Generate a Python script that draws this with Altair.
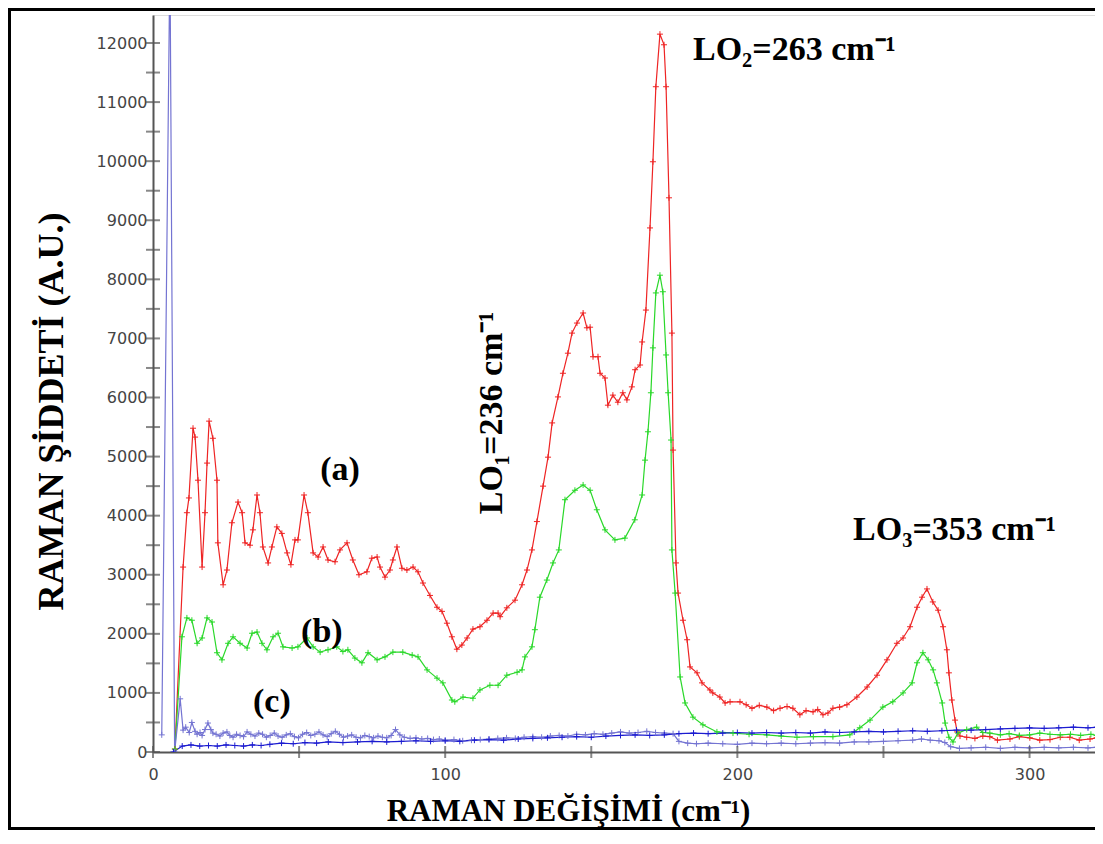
import altair as alt
import pandas as pd

# ---------------- data ----------------
series_names = ["(a)", "(b)", "(c)", "(d)"]
series_colors = ["#ee2424", "#2ad82a", "#7474d2", "#1c1cd0"]

a_x = [7.5, 10.3, 11.6, 12.3, 13.7, 14.4, 15.4, 16.8, 17.8, 18.5, 19.2, 20.5, 21.9, 22.2, 24.0, 25.3,
       27.0, 29.1, 30.5, 31.5, 33.2, 34.2, 35.6, 36.6, 37.6, 39.4, 40.7, 42.4, 44.1, 45.9, 47.2, 48.6,
       49.6, 51.7, 53.0, 54.8, 56.5, 58.2, 59.9, 62.3, 64.0, 66.4, 68.4, 70.5, 73.2, 74.9, 76.7, 77.7,
       79.4, 81.1, 82.1, 83.5, 85.2, 86.9, 89.0, 90.7, 92.4, 94.8, 97.2, 98.9, 100.6, 102.3, 104.0,
       105.7, 107.5, 109.5, 111.9, 114.3, 116.4, 118.1, 118.8, 121.1, 123.9, 126.3, 128.0, 129.7,
       131.4, 133.5, 135.2, 136.6, 138.6, 140.3, 142.0, 143.4, 145.1, 147.2, 148.5, 149.6, 150.6,
       152.3, 153.0, 154.7, 155.7, 157.4, 159.1, 160.8, 162.2, 163.9, 165.0, 166.7, 167.4, 168.7,
       170.1, 171.1, 172.1, 173.5, 174.9, 175.6, 176.6, 177.6, 178.0, 179.0, 179.7, 181.4, 182.8,
       183.8, 186.2, 187.9, 190.6, 191.6, 194.0, 195.8, 197.5, 200.9, 203.0, 205.0, 207.5, 210.1,
       212.4, 214.6, 217.0, 219.0, 221.4, 223.5, 225.9, 227.5, 229.3, 231.0, 232.7, 235.0, 237.5,
       240.9, 244.4, 247.8, 251.2, 254.6, 256.7, 259.1, 261.5, 263.2, 264.9, 266.9, 268.7, 270.4,
       271.7, 272.4, 273.4, 274.5, 275.2, 276.2, 278.5, 281.3, 284.0, 286.4, 289.0, 293.3, 296.5,
       300.1, 303.5, 307.0, 310.5, 313.8, 317.0, 320.7, 323.0]
a_y = [50, 3130, 4050, 4300, 5480, 5330, 4600, 3130, 4050, 4890, 5600, 5310, 4600, 3540, 2830, 3080,
       3880, 4230, 4050, 3540, 3500, 3760, 4350, 4050, 3470, 3200, 3470, 3810, 3700, 3370, 3170, 3590,
       3590, 4350, 4050, 3370, 3300, 3470, 3250, 3220, 3420, 3540, 3250, 3000, 3050, 3280, 3300, 3130,
       2960, 3080, 3250, 3470, 3110, 3080, 3130, 3050, 2860, 2650, 2450, 2380, 2180, 1950, 1740,
       1810, 1930, 2080, 2120, 2230, 2350, 2350, 2290, 2440, 2570, 2830, 3080, 3420,
       3900, 4500, 4990, 5570, 6010, 6410, 6750, 7090, 7260, 7430, 7180, 7190, 6690,
       6690, 6410, 6330, 5870, 6040, 5920, 6080, 5960, 6180, 6470, 6550, 6940, 7480,
       8870, 9990, 11260, 12150, 11970, 11260, 9380, 7090, 5110, 3200, 2690, 2230, 1900,
       1440, 1340, 1170, 1050, 1000, 930, 830, 850, 850, 800, 740, 790, 760,
       700, 740, 770, 740, 630, 700, 680, 720, 630, 660, 740, 760, 800,
       930, 1100, 1300, 1560, 1840, 1930, 2120, 2450, 2620, 2760, 2540, 2400, 2120,
       1730, 1340, 880, 540, 340, 270, 250, 230, 270, 260, 200, 220, 260,
       240, 200, 210, 250, 250, 200, 220, 240]

b_x = [7.5, 9.9, 11.6, 13.3, 15.1, 16.8, 18.5, 20.2, 21.9, 23.6, 25.7, 27.4, 29.8, 32.2, 33.9, 35.6,
       37.3, 39.0, 41.1, 42.8, 44.5, 47.6, 49.6, 52.7, 54.8, 57.2, 59.9, 62.9, 65.0, 66.7, 69.1, 71.5,
       73.6, 76.7, 79.4, 82.1, 85.5, 88.7, 90.7, 93.8, 97.2, 99.2, 102.3, 103.3, 106.1, 109.5, 111.9,
       115.3, 118.1, 121.1, 124.6, 126.3, 127.3, 129.7, 130.7, 132.4, 134.8, 136.9, 138.9, 141.0,
       144.4, 147.2, 149.6, 151.9, 154.7, 158.1, 161.5, 164.9, 167.4, 168.4, 169.4, 170.4, 171.1,
       172.1, 173.5, 174.5, 175.6, 176.3, 177.3, 177.6, 178.7, 180.4, 182.1, 184.8, 188.2, 193.0,
       198.5, 204.0, 210.1, 215.0, 220.4, 226.0, 232.7, 238.5, 241.9, 245.4, 249.8, 253.2, 256.7,
       259.8, 261.5, 263.5, 265.3, 267.0, 268.3, 270.1, 271.1, 272.4, 273.8, 275.5, 278.5, 281.9,
       284.0, 286.4, 290.0, 293.0, 296.5, 300.0, 303.5, 307.0, 310.5, 314.0, 317.5, 321.0, 323.0]
b_y = [50, 1950, 2270, 2230, 1840, 1930, 2270, 2200, 1680, 1560, 1840, 1950, 1840, 1760, 2010, 2030,
       1840, 1730, 1950, 2010, 1780, 1760, 1780, 1930, 1780, 1690, 1730, 1780, 1700, 1730, 1590, 1510,
       1680, 1560, 1610, 1690, 1690, 1640, 1610, 1390, 1250, 1170, 880, 850, 930, 910, 1050,
       1130, 1130, 1300, 1350, 1390, 1610, 1780, 2070, 2620, 2910, 3200, 3420, 4270,
       4430, 4520, 4430, 4100, 3760, 3590, 3620, 3930, 4350, 4940, 5420, 6080, 6840,
       7770, 8070, 7790, 6720, 6080, 5280, 3420, 2690, 1270, 830, 590, 460, 340,
       320, 300, 290, 270, 250, 260, 260, 290, 410, 540, 760, 850, 1000,
       1170, 1510, 1680, 1560, 1390, 1170, 830, 490, 250, 170, 320, 380, 420,
       330, 320, 290, 310, 280, 290, 320, 300, 290, 300, 280, 300, 280]

c_x = [3.0, 5.8, 7.4, 9.3, 10.3, 11.2, 12.4, 13.3, 14.4, 15.1, 16.1, 16.8, 17.8, 18.8, 19.8, 20.5,
       21.6, 22.9, 24.0, 25.3, 26.3, 27.4, 28.6, 29.8, 31.0, 32.2, 33.5, 34.9, 36.2, 37.5, 38.8, 40.1,
       41.5, 42.8, 44.2, 45.6, 47.0, 48.4, 49.8, 51.2, 52.6, 54.0, 55.4, 56.8, 58.2, 59.6, 61.0, 62.4,
       63.8, 65.2, 66.6, 68.0, 69.5, 71.0, 72.5, 74.0, 75.5, 77.0, 78.5, 80.0, 81.5, 83.0, 84.5, 86.0,
       88.0, 90.0, 92.0, 94.0, 96.0, 98.0, 100.0, 103, 106, 109, 112, 115, 118, 121, 124, 127, 130,
       133, 136, 139, 142, 145, 148, 151, 154, 157, 160, 163, 166, 169, 172, 175, 178, 180, 183, 186,
       190, 195, 200, 205, 210, 215, 220, 225, 230, 235, 240, 245, 250, 255, 260, 263, 266, 269, 271,
       273, 276, 280, 285, 290, 295, 300, 305, 310, 315, 320, 323]
c_y = [290, 13500, 0, 900, 370, 420, 330, 500, 350, 300, 330, 280, 380, 490, 380, 320,
       300, 270, 320, 340, 280, 250, 300, 280, 260, 340, 300, 270, 320, 300, 250, 280,
       320, 270, 250, 290, 310, 260, 240, 300, 330, 280, 300, 340, 290, 260, 310, 350,
       300, 250, 270, 290, 250, 240, 280, 260, 240, 270, 250, 240, 280, 380, 290, 250,
       230, 240, 220, 230, 210, 220, 200, 210, 190, 200, 210, 220, 230, 240, 230, 250, 260,
       250, 270, 280, 270, 300, 290, 310, 300, 320, 340, 320, 330, 350, 330, 320, 310, 180, 150, 140,
       150, 140, 130, 150, 140, 150, 140, 150, 160, 150, 170, 170, 180, 190, 200, 220, 200, 190, 160,
       90, 60, 70, 80, 60, 80, 70, 80, 70, 80, 70, 80]

d_x = [7.0, 10, 13, 16, 19, 22, 25, 28, 31, 34, 37, 40, 44, 48, 52, 56, 60, 65, 70, 75, 80, 85, 90,
       95, 100, 105, 110, 115, 120, 125, 130, 135, 140, 145, 150, 155, 160, 165, 170, 175, 180, 185,
       190, 195, 200, 205, 210, 215, 220, 225, 230, 235, 240, 245, 250, 255, 260, 265, 270, 275, 280,
       285, 290, 295, 300, 305, 310, 315, 320, 323]
d_y = [0, 100, 120, 100, 110, 100, 120, 110, 100, 120, 110, 130, 150, 140, 160, 150, 170, 160, 170,
       180, 170, 180, 190, 180, 190, 180, 200, 210, 200, 220, 230, 240, 250, 260, 250, 270, 280, 290,
       280, 290, 310, 320, 310, 320, 330, 320, 330, 320, 330, 320, 340, 330, 340, 350, 340, 350, 360,
       350, 360, 370, 370, 380, 390, 400, 410, 400, 410, 420, 410, 420]

x_tick_values = [0, 50, 100, 150, 200, 250, 300]
x_label_values = [0, 100, 200, 300]
y_tick_values = list(range(0, 12001, 500))
y_label_values = list(range(0, 12001, 1000))

ann_text = ["(a)", "(b)", "(c)", "LO\u2082=263 cm\u207b\u00b9", "LO\u2083=353 cm\u207b\u00b9"]
ann_x = [64.0, 57.8, 40.7, 184.8, 239.6]
ann_y = [4770, 2030, 850, 11880, 3760]
ann_align = ["center", "center", "center", "left", "left"]
rot_text = ["LO\u2081=236 cm\u207b\u00b9"]
rot_x = [116.0]
rot_y = [5740]

# ---------------- build ----------------
rows = []
for name, xs, ys in zip(series_names, [a_x, b_x, c_x, d_x], [a_y, b_y, c_y, d_y]):
    for i, (xv, yv) in enumerate(zip(xs, ys)):
        rows.append({"series": name, "x": xv, "y": yv, "order": i})
df = pd.DataFrame(rows)

W, H = 942, 737
x_scale = alt.Scale(domain=[0, 322.4], nice=False, zero=False)
y_scale = alt.Scale(domain=[0, 12474], nice=False)
color = alt.Color("series:N", scale=alt.Scale(domain=series_names, range=series_colors), legend=None)

x_axis = alt.Axis(values=x_label_values, ticks=False, grid=False, domainColor="#555555",
                  domainWidth=2, labelFont="DejaVu Sans", labelFontSize=16, labelColor="#444444",
                  labelPadding=14, labelFlush=False, format="d",
                  title="RAMAN DEĞİŞİMİ (cm\u207b\u00b9)", titleFont="Liberation Serif",
                  titleFontSize=31, titleFontWeight="bold", titleColor="black",
                  titleX=415, titleY=59, titleBaseline="middle")
y_axis = alt.Axis(values=y_label_values, ticks=False, grid=False, domainColor="#555555",
                  domainWidth=2, labelFont="DejaVu Sans", labelFontSize=16, labelColor="#444444",
                  labelPadding=6, labelFlush=False, labelOverlap=False, format="d",
                  title="RAMAN ŞİDDETİ (A.U.)", titleFont="Liberation Serif",
                  titleFontSize=36, titleFontWeight="bold", titleColor="black", titlePadding=26,
                  titleY=396)

X = alt.X("x:Q", scale=x_scale, axis=x_axis)
Y = alt.Y("y:Q", scale=y_scale, axis=y_axis)

base = alt.Chart(df)
lines = base.mark_line(strokeWidth=1.2, clip=True).encode(
    x=X, y=Y, color=color, order="order:Q")
points = base.mark_point(shape="M-1,0H1M0,-1V1", size=36, filled=False, strokeWidth=1,
                         opacity=1, clip=True).encode(x=X, y=Y, color=color)

yt = alt.Chart(pd.DataFrame({"y": y_tick_values})).mark_tick(
    orient="horizontal", size=14, thickness=2, color="#555555").encode(
    x=alt.value(0), y=Y)
xt = alt.Chart(pd.DataFrame({"x": x_tick_values})).mark_tick(
    orient="vertical", size=12, thickness=2, color="#555555").encode(
    y=alt.value(H), x=X)

ann_df = pd.DataFrame({"t": ann_text, "x": ann_x, "y": ann_y, "al": ann_align})
ann_center = alt.Chart(ann_df[ann_df["al"] == "center"]).mark_text(
    font="Liberation Serif", fontWeight="bold", fontSize=34, color="black",
    align="center", baseline="middle").encode(x=X, y=Y, text="t:N")
ann_left = alt.Chart(ann_df[ann_df["al"] == "left"]).mark_text(
    font="Liberation Serif", fontWeight="bold", fontSize=34, color="black",
    align="left", baseline="middle").encode(x=X, y=Y, text="t:N")
rot_df = pd.DataFrame({"t": rot_text, "x": rot_x, "y": rot_y})
ann_rot = alt.Chart(rot_df).mark_text(
    font="Liberation Serif", fontWeight="bold", fontSize=34, color="black",
    align="center", baseline="middle", angle=270).encode(x=X, y=Y, text="t:N")

frame = alt.Chart(pd.DataFrame({"k": [0]})).mark_rect(
    fillOpacity=0, stroke="black", strokeWidth=3).encode(
    x=alt.value(-143.5), x2=alt.value(W + 30), y=alt.value(-5.5), y2=alt.value(H + 76.5))

chart = alt.layer(lines, points, yt, xt, ann_center, ann_left, ann_rot, frame).properties(
    width=W, height=H,
    padding={"left": 145, "top": 7, "right": 0, "bottom": 78},
    autosize=alt.AutoSizeParams(type="none"),
).configure_view(stroke=None).configure(background="white")

chart.save("out.html", embed_options={"renderer": "svg", "actions": False})
